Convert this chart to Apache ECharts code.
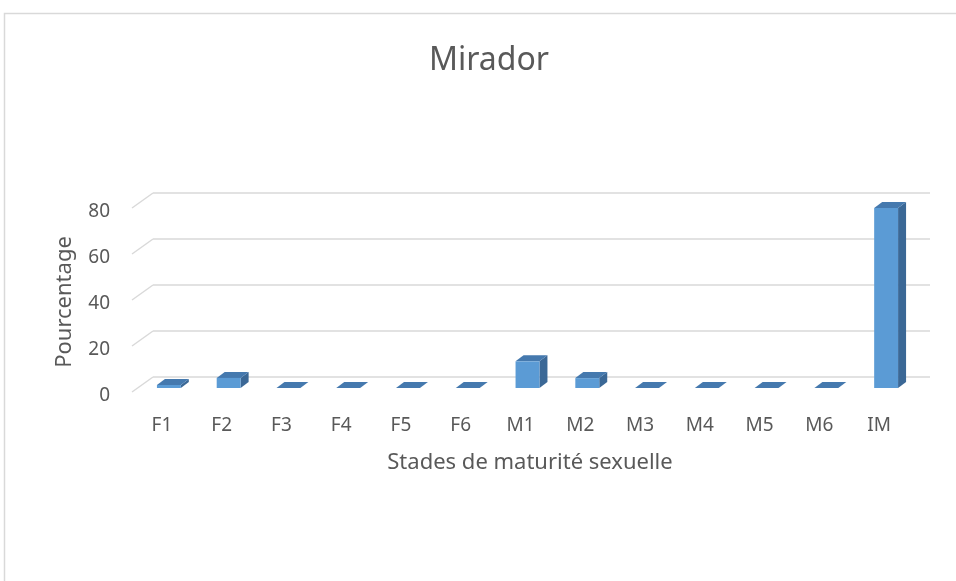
<!DOCTYPE html>
<html>
<head>
<meta charset="utf-8">
<script src="https://cdn.jsdelivr.net/npm/echarts@6/dist/echarts.min.js"></script>
<style>html,body{margin:0;padding:0;background:#fff;}#c{width:956px;height:581px;}</style>
</head>
<body>
<div id="c"></div>
<script>
const categories = ['F1','F2','F3','F4','F5','F6','M1','M2','M3','M4','M5','M6','IM'];
const values = [1.3, 4.4, 0, 0, 0, 0, 11.6, 4.3, 0, 0, 0, 0, 78.3];
const yTicks = [0, 20, 40, 60, 80];

const FONT = "'Noto Sans', sans-serif";
const TXT = '#595959';
const GRIDC = '#D9D9D9';
const DEPTH_X = 21, DEPTH_Y = -15;

const chart = echarts.init(document.getElementById('c'), null, {renderer: 'canvas'});
chart.setOption({
  animation: false,
  backgroundColor: '#fff',
  title: {
    text: 'Mirador', left: 489, top: 45, textAlign: 'center', padding: 0,
    textStyle: {fontFamily: FONT, fontSize: 32, fontWeight: 'normal', color: TXT}
  },
  graphic: [
    {type: 'rect', silent: true, z: -10, shape: {x: 4.5, y: 13.5, width: 1200, height: 1200},
     style: {fill: 'none', stroke: GRIDC, lineWidth: 1.5}},
    {type: 'text', x: 65, y: 302, rotation: Math.PI / 2,
     style: {text: 'Pourcentage', fontFamily: FONT, fontSize: 22, fill: TXT, align: 'center', verticalAlign: 'middle'}},
    {type: 'text', x: 530, y: 463,
     style: {text: 'Stades de maturité sexuelle', fontFamily: FONT, fontSize: 22, fill: TXT, align: 'center', verticalAlign: 'middle'}}
  ],
  grid: [
    {left: 132, right: 47, top: 208, bottom: 189},
    {left: 153, right: 26, top: 193, bottom: 204}
  ],
  xAxis: [
    {type: 'category', gridIndex: 0, data: categories,
     axisLine: {show: false}, axisTick: {show: false}, splitLine: {show: false},
     axisLabel: {margin: 24, fontFamily: FONT, fontSize: 19, color: TXT}},
    {type: 'category', gridIndex: 1, data: categories, show: false}
  ],
  yAxis: [
    {type: 'value', gridIndex: 0, min: 0, max: 80, interval: 20,
     axisLine: {show: false}, axisTick: {show: false}, splitLine: {show: false},
     axisLabel: {margin: 22, formatter: '{a|{value}}', color: TXT,
       rich: {a: {padding: [8, 0, 0, 0], fontFamily: FONT, fontSize: 19, color: TXT}}}},
    {type: 'value', gridIndex: 1, min: 0, max: 80, interval: 20,
     axisLine: {show: false}, axisTick: {show: false}, axisLabel: {show: false},
     splitLine: {show: true, lineStyle: {color: GRIDC, width: 1.5}}}
  ],
  series: [
    {
      type: 'custom', xAxisIndex: 0, yAxisIndex: 0, z: 1, silent: true,
      data: yTicks.map(v => [0, v]),
      renderItem: function (params, api) {
        const cs = params.coordSys;
        const p = api.coord([0, api.value(1)]);
        return {type: 'line', shape: {x1: cs.x, y1: p[1], x2: cs.x + DEPTH_X, y2: p[1] + DEPTH_Y},
                style: {stroke: GRIDC, lineWidth: 1.5}};
      }
    },
    {
      type: 'custom', xAxisIndex: 0, yAxisIndex: 0, z: 3, silent: true,
      data: values.map((v, i) => [i, v]),
      renderItem: function (params, api) {
        const i = api.value(0), v = api.value(1);
        const b = api.coord([i, 0]);
        const t = api.coord([i, v]);
        const bw = api.size([1, 0])[0] * 0.4;
        const fx = 7, fy = -4, dx = 8, dy = -6;
        const L = b[0] + fx - bw / 2, R = b[0] + fx + bw / 2;
        const B = b[1] + fy, T = t[1] + fy;
        return {type: 'group', children: [
          {type: 'polygon', shape: {points: [[R, T], [R + dx, T + dy], [R + dx, B + dy], [R, B]]},
           style: {fill: '#3B6896'}},
          {type: 'polygon', shape: {points: [[L, T], [R, T], [R + dx, T + dy], [L + dx, T + dy]]},
           style: {fill: '#4579AE'}},
          {type: 'rect', shape: {x: L, y: T, width: R - L, height: B - T},
           style: {fill: '#5B9BD5'}}
        ]};
      }
    }
  ]
});
</script>
</body>
</html>
